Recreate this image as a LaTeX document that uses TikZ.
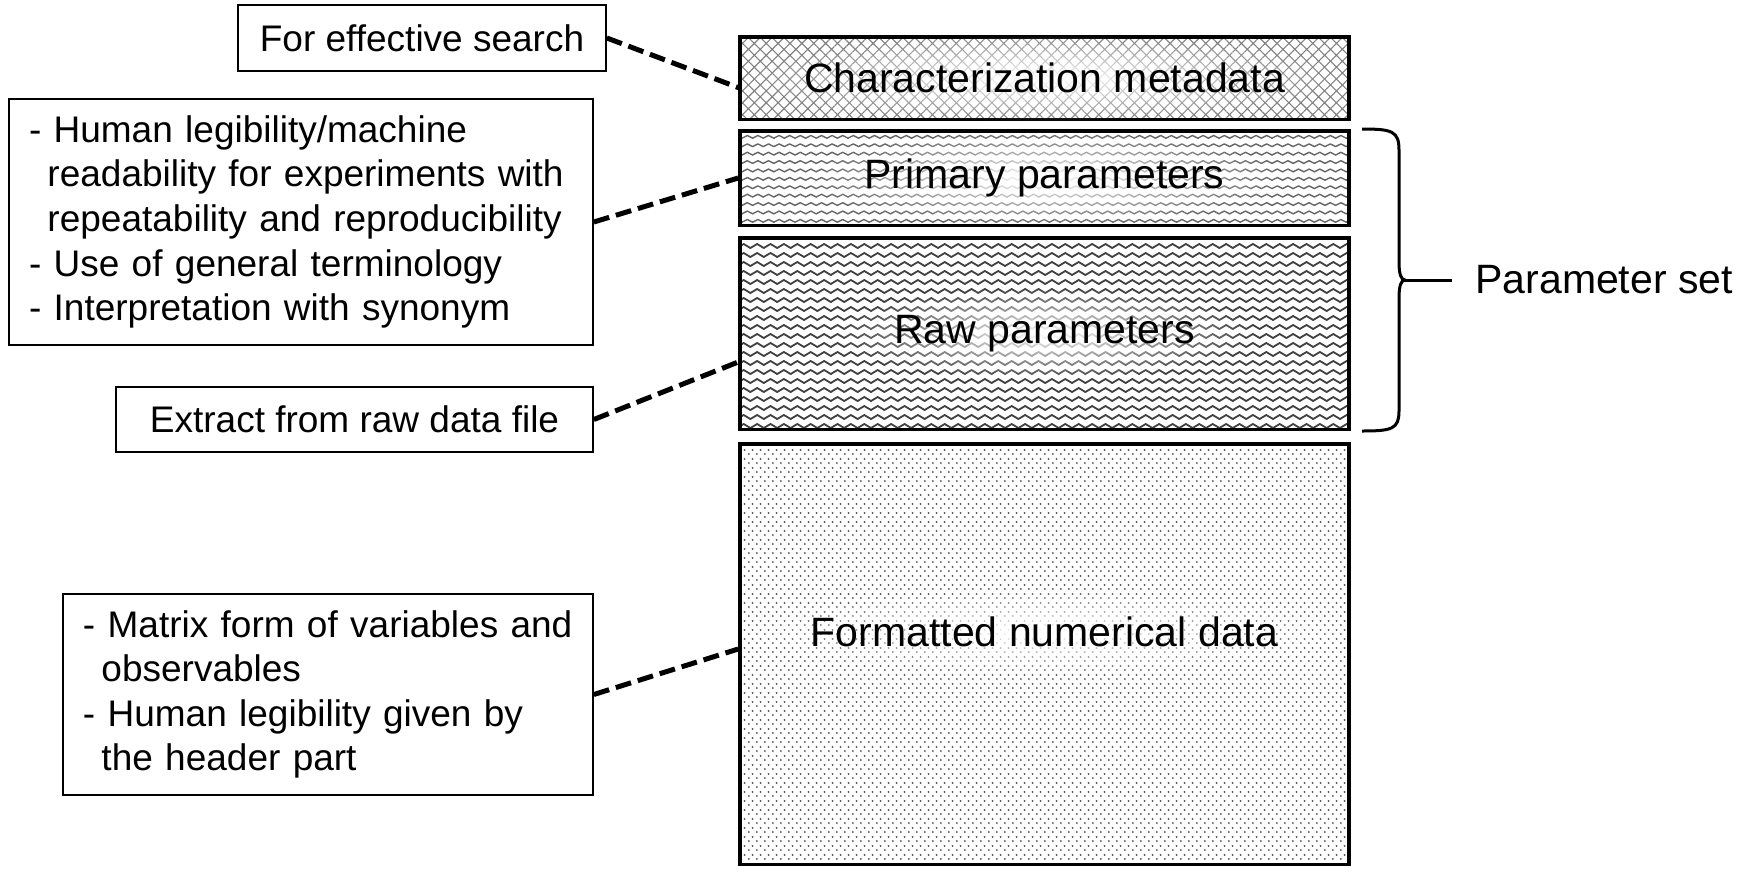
\documentclass[tikz,border=0pt]{standalone}
\usepackage{fontspec}
\setmainfont{Liberation Sans}
\usetikzlibrary{patterns,patterns.meta,fadings}

\pgfdeclarepatternformonly{zigzag}{\pgfqpoint{-0.6pt}{-0.6pt}}{\pgfqpoint{7.3pt}{2.6pt}}{\pgfqpoint{6.7pt}{4.5pt}}{%
  \pgfsetlinewidth{0.9pt}%
  \pgfsetroundcap\pgfsetroundjoin
  \pgfpathmoveto{\pgfqpoint{0pt}{0pt}}%
  \pgfpathlineto{\pgfqpoint{3.35pt}{2pt}}%
  \pgfpathlineto{\pgfqpoint{6.7pt}{0pt}}%
  \pgfusepath{stroke}}
\pgfdeclarepatternformonly{zigzaglight}{\pgfqpoint{-0.5pt}{-0.5pt}}{\pgfqpoint{5.8pt}{1.9pt}}{\pgfqpoint{5.3pt}{4.2pt}}{%
  \pgfsetlinewidth{0.7pt}%
  \pgfsetroundcap\pgfsetroundjoin
  \pgfpathmoveto{\pgfqpoint{0pt}{0pt}}%
  \pgfpathlineto{\pgfqpoint{2.65pt}{1.35pt}}%
  \pgfpathlineto{\pgfqpoint{5.3pt}{0pt}}%
  \pgfusepath{stroke}}
\pgfdeclarepatternformonly{dotgrid}{\pgfqpoint{0pt}{0pt}}{\pgfqpoint{3.85pt}{4.5pt}}{\pgfqpoint{3.85pt}{4.5pt}}{%
  \pgfpathcircle{\pgfqpoint{0.96pt}{1.1pt}}{0.55pt}%
  \pgfpathcircle{\pgfqpoint{2.89pt}{3.35pt}}{0.55pt}%
  \pgfusepath{fill}}

\tikzfading[name=glow, inner color=transparent!0, outer color=transparent!100]

\begin{document}
\begin{tikzpicture}[x=0.5pt,y=-0.5pt,
  layer/.style={draw, line width=1.8pt, minimum width=304.5pt, inner sep=0pt},
  layertext/.style={fill=white, path fading=glow, text opacity=1, inner xsep=30pt, inner ysep=14pt,
    font=\fontsize{20.5}{24}\selectfont},
  callout/.style={draw, line width=0.85pt, font=\fontsize{18.5}{22.3}\selectfont},
  link/.style={line width=2.5pt, dash pattern=on 8pt off 3.5pt}]
\useasboundingbox (0,0) rectangle (1746,869);

\node[layer, minimum height=41.3pt, pattern={Hatch[angle=45,distance=4.2pt,line width=0.55pt]}, pattern color=black!50] (meta) at (1044.5,78) {};
\node[layer, minimum height=47.3pt, pattern=zigzaglight, pattern color=black!60] (primary) at (1044.5,178) {};
\node[layer, minimum height=95.8pt, pattern=zigzag, pattern color=black!75] (raw) at (1044.5,333.5) {};
\node[layer, minimum height=210.3pt, pattern=dotgrid, pattern color=black!70] (formatted) at (1044.5,654) {};

\node[layertext] (metatext) at (meta.center) {Characterization metadata};
\node[layertext] (primarytext) at (primary.center) {Primary parameters};
\node[layertext] (rawtext) at (raw.center) {Raw parameters};
\node[layertext] (formattedtext) at (1044.5,632) {Formatted numerical data};

\node[callout, minimum width=184pt, minimum height=33pt, inner sep=0pt] (search) at (422,38) {For effective search};
\node[callout, text width=272pt, inner xsep=10pt, minimum height=123pt, align=left] (notes) at (301,222)
  {- Human legibility/machine\\
   \hspace*{0.5em}readability for experiments with\\
   \hspace*{0.5em}repeatability and reproducibility\\
   - Use of general terminology\\
   - Interpretation with synonym};
\node[callout, minimum width=238.5pt, minimum height=32.5pt, inner sep=0pt] (extract) at (354.5,419.5) {Extract from raw data file};
\node[callout, text width=245pt, inner xsep=10pt, minimum height=100.5pt, align=left] (matrix) at (328,694.5)
  {- Matrix form of variables and\\
   \hspace*{0.5em}observables\\
   - Human legibility given by\\
   \hspace*{0.5em}the header part};

\draw[link] (search.east) -- ([yshift=-5pt]meta.west);
\draw[link] (notes.east) -- (primary.west);
\draw[link] (extract.east) -- ([yshift=-14.25pt]raw.west);
\draw[link] (matrix.east) -- ([yshift=2.5pt]formatted.west);

\node[font=\fontsize{20.5}{24}\selectfont, anchor=west, inner sep=0pt] (pset) at (1475,280) {Parameter set};
\draw[line width=1.5pt] (1362,129) .. controls (1392,129) and (1399,131) .. (1399,150) -- (1399,262)
  .. controls (1399,274) and (1401,280) .. (1405,280)
  .. controls (1401,280) and (1399,286) .. (1399,298) -- (1399,411)
  .. controls (1399,429) and (1392,431) .. (1362,431);
\coordinate (tip) at (1405,280);
\draw[line width=1.5pt] (tip) -- ([xshift=-11.5pt]pset.west);
\end{tikzpicture}
\end{document}
